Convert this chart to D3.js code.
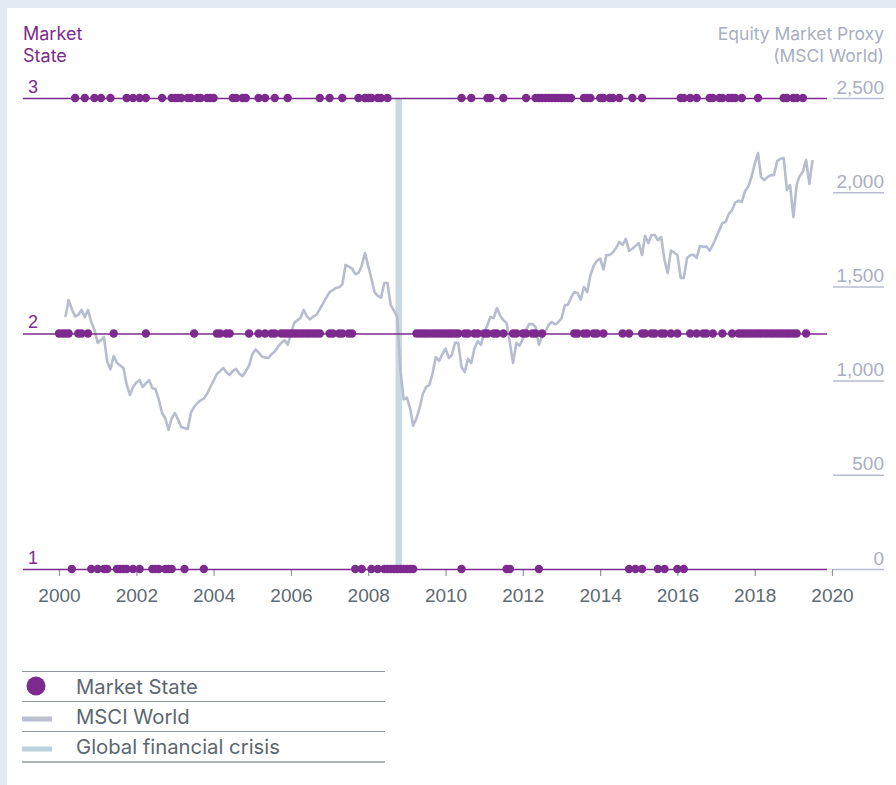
<!DOCTYPE html>
<html>
<head>
<meta charset="utf-8">
<script src="https://cdn.jsdelivr.net/npm/d3@7"></script>
<style>
  body { margin: 0; background: #e3ebf2; }
  svg { display: block; font-family: Inter, "Noto Sans", sans-serif; }
</style>
</head>
<body>
<svg id="chart"></svg>
<script>
// market state observations, one dot per month
const state3Months = [
  "2000-06","2000-09","2000-12","2001-02","2001-05","2001-10","2001-12",
  "2002-02","2002-04","2002-09","2002-12",
  "2003-01","2003-02","2003-03","2003-05","2003-06","2003-08","2003-09","2003-11","2003-12",
  "2004-01","2004-07","2004-08","2004-10","2004-11",
  "2005-03","2005-05","2005-08","2005-12","2006-10",
  "2007-01","2007-05","2007-10","2007-12",
  "2008-01","2008-02","2008-04","2008-05","2008-07",
  "2010-06","2010-09","2011-02","2011-03","2011-07",
  "2012-02","2012-05","2012-06","2012-07","2012-08","2012-09","2012-10","2012-11","2012-12",
  "2013-01","2013-02","2013-03","2013-04","2013-08","2013-09","2013-10",
  "2014-01","2014-02","2014-04","2014-05","2014-07","2014-11","2015-02",
  "2016-02","2016-03","2016-05","2016-07","2016-11","2016-12",
  "2017-02","2017-03","2017-05","2017-06","2017-07","2017-09",
  "2018-02","2018-10","2018-11","2019-01","2019-02","2019-04"
];
const state2Months = [
  "2000-01","2000-02","2000-03","2000-04","2000-07","2000-08","2000-10",
  "2001-06","2002-04","2003-07",
  "2004-02","2004-03","2004-05","2004-06","2004-12",
  "2005-03","2005-05","2005-07","2005-08","2005-10","2005-11","2005-12",
  "2006-01","2006-02","2006-03","2006-04","2006-05","2006-06","2006-07","2006-08","2006-09","2006-10",
  "2007-01","2007-02","2007-04","2007-05","2007-07","2007-08",
  "2009-04","2009-05","2009-06","2009-07","2009-08","2009-09","2009-10","2009-11","2009-12",
  "2010-01","2010-02","2010-03","2010-04","2010-05","2010-07","2010-08","2010-10","2010-11",
  "2011-01","2011-02","2011-04","2011-05","2011-07","2011-10","2011-11",
  "2012-01","2012-02","2012-04","2012-05","2012-07",
  "2013-05","2013-06","2013-08","2013-09","2013-11","2013-12",
  "2014-02","2014-08","2014-10",
  "2015-02","2015-03","2015-05","2015-06","2015-08","2015-09","2015-11",
  "2016-01","2016-05","2016-07","2016-09","2016-10","2016-12",
  "2017-03","2017-06","2017-08","2017-09","2017-10","2017-11","2017-12",
  "2018-01","2018-02","2018-03","2018-04","2018-05","2018-06","2018-07","2018-08","2018-09","2018-10","2018-11","2018-12",
  "2019-01","2019-02","2019-05"
];
const state1Months = [
  "2000-05","2000-11","2001-01","2001-03","2001-04","2001-07","2001-08","2001-09","2001-10","2001-12",
  "2002-02","2002-06","2002-07","2002-08","2002-10","2002-11","2002-12",
  "2003-04","2003-10",
  "2007-09","2007-11","2008-02","2008-04",
  "2008-06","2008-07","2008-08","2008-09","2008-10","2008-11","2008-12",
  "2009-01","2009-02","2009-03",
  "2010-06","2011-08","2011-09","2012-06",
  "2014-10","2014-12","2015-02","2015-07","2015-09","2016-01","2016-03"
];

// MSCI World, monthly from March 2000
const msciStart = "2000-03";
const msciValues = [
  1337, 1428, 1380, 1340, 1350, 1375, 1337, 1375, 1310, 1270, 1200, 1215,
  1231, 1100, 1060, 1130, 1095, 1080, 1067, 980, 924, 966, 990, 1003,
  966, 985, 1003, 960, 955, 900, 828, 800, 738, 800, 828, 790,
  754, 748, 743, 830, 860, 881, 895, 905, 930, 966, 1000, 1035,
  1050, 1067, 1045, 1030, 1050, 1062, 1035, 1024, 1050, 1080, 1140, 1165,
  1150, 1128, 1122, 1120, 1140, 1155, 1180, 1200, 1215, 1190, 1250, 1306,
  1320, 1332, 1375, 1340, 1325, 1340, 1350, 1380, 1410, 1440, 1470, 1480,
  1492, 1495, 1510, 1614, 1605, 1595, 1565, 1571, 1610, 1677, 1610, 1540,
  1470, 1450, 1440, 1518, 1518, 1400, 1370, 1340, 1050, 900, 910, 850,
  760, 800, 855, 930, 966, 977, 1040, 1125, 1105, 1140, 1170,
  1120, 1136, 1200, 1200, 1072, 1045, 1115, 1093, 1170, 1210, 1189, 1253,
  1295, 1338, 1332, 1385, 1345, 1320, 1306, 1200, 1093, 1200, 1185, 1220,
  1270, 1300, 1300, 1285, 1190, 1231, 1260, 1295, 1311, 1298, 1310, 1330,
  1401, 1401, 1440, 1470, 1465, 1430, 1497, 1470, 1560, 1610, 1635, 1648,
  1590, 1667, 1667, 1680, 1704, 1736, 1720, 1752, 1688, 1700, 1715, 1730,
  1667, 1768, 1730, 1773, 1773, 1745, 1762, 1640, 1571, 1690, 1680, 1667,
  1545, 1545, 1650, 1665, 1668, 1651, 1714, 1710, 1712, 1690, 1720, 1760,
  1800, 1837, 1842, 1885, 1905, 1945, 1955, 1948, 2005, 2030, 2080, 2150,
  2208, 2080, 2065, 2080, 2091, 2090, 2165, 2178, 2182, 2012, 2038, 1868,
  2040, 2085, 2110, 2171, 2044, 2171
];

const crisisPeriod = ["2008-09-15", "2008-11-15"];
const yearTicks = [2000, 2002, 2004, 2006, 2008, 2010, 2012, 2014, 2016, 2018, 2020];
const stateTicks = [1, 2, 3];
const msciTicks = [0, 500, 1000, 1500, 2000, 2500];
const legendLabels = ["Market State", "MSCI World", "Global financial crisis"];

const purple = "#7d2a8e";
const lineGrey = "#b7bccf";

const W = 896, H = 785;
const svg = d3.select("#chart").attr("width", W).attr("height", H);

// panel
svg.append("rect").attr("width", W).attr("height", H).attr("fill", "#e3ebf2");
svg.append("rect").attr("x", 7).attr("y", 8).attr("width", W - 7).attr("height", H - 8).attr("fill", "#fff");

const parseMonth = d3.timeParse("%Y-%m");
const parseDay = d3.timeParse("%Y-%m-%d");

var x = d3.scaleTime()
  .domain([new Date(2000, 0, 1), new Date(2020, 0, 1)])
  .range([59, 832]);
var yState = d3.scaleLinear().domain([1, 3]).range([569, 98]);
var yMsci = d3.scaleLinear().domain([0, 2500]).range([569, 98]);

// crisis band
svg.append("rect")
  .attr("x", x(parseDay(crisisPeriod[0])))
  .attr("width", x(parseDay(crisisPeriod[1])) - x(parseDay(crisisPeriod[0])))
  .attr("y", yState(3))
  .attr("height", yState(1) - yState(3))
  .attr("fill", "#c8d9e4");

// x axis
var xAxis = d3.axisBottom(x)
  .tickValues(yearTicks.map(function (y) { return new Date(y, 0, 1); }))
  .tickFormat(d3.timeFormat("%Y"))
  .tickSize(7)
  .tickPadding(13);
var gx = svg.append("g").attr("transform", "translate(0," + yState(1) + ")").call(xAxis);
gx.select(".domain").remove();
gx.selectAll("line").attr("stroke", "#8e979d").attr("stroke-width", 1.2);
gx.selectAll("text").attr("fill", "#5f6a72").style("font-size", "19px");

// MSCI line
var start = parseMonth(msciStart);
var msci = msciValues.map(function (v, i) {
  return { date: d3.timeMonth.offset(start, i), value: v };
});
var line = d3.line()
  .x(function (d) { return x(d.date); })
  .y(function (d) { return yMsci(d.value); });
svg.append("path")
  .datum(msci)
  .attr("d", line)
  .attr("fill", "none")
  .attr("stroke", lineGrey)
  .attr("stroke-width", 2.6)
  .attr("stroke-linejoin", "round");

// state lines and labels
var stateAxis = d3.axisRight(yState).tickValues(stateTicks).tickFormat(d3.format("d")).tickSize(804).tickPadding(0);
var gs = svg.append("g").attr("transform", "translate(23,0)").call(stateAxis);
gs.select(".domain").remove();
gs.selectAll("line").attr("stroke", purple).attr("stroke-width", 1.3);
gs.selectAll("text")
  .attr("x", 5).attr("dy", -6)
  .attr("text-anchor", "start")
  .attr("fill", purple)
  .style("font-size", "18px");

// dots
var dots = [];
[[1, state1Months], [2, state2Months], [3, state3Months]].forEach(function (s) {
  s[1].forEach(function (m) { dots.push({ state: s[0], date: parseMonth(m) }); });
});
svg.append("g").selectAll("circle")
  .data(dots)
  .enter().append("circle")
  .attr("cx", function (d) { return x(d.date); })
  .attr("cy", function (d) { return yState(d.state); })
  .attr("r", 4.2)
  .attr("fill", purple);

// right axis
var msciAxis = d3.axisLeft(yMsci).tickValues(msciTicks).tickFormat(d3.format(",")).tickSize(51);
var gr = svg.append("g").attr("transform", "translate(884,0)").call(msciAxis);
gr.select(".domain").remove();
gr.selectAll("line").attr("stroke", lineGrey).attr("stroke-width", 1.5);
gr.selectAll("text")
  .attr("x", 0).attr("dy", -5)
  .attr("text-anchor", "end")
  .attr("fill", "#a9aec1")
  .style("font-size", "19px");

// titles
var lt = svg.append("text").attr("x", 23).attr("y", 40).attr("fill", purple).style("font-size", "18px");
lt.append("tspan").attr("x", 23).text("Market");
lt.append("tspan").attr("x", 23).attr("dy", 22).text("State");
var rt = svg.append("text").attr("x", 884).attr("y", 40).attr("text-anchor", "end").attr("fill", "#a9aec1").style("font-size", "17.5px");
rt.append("tspan").attr("x", 884).text("Equity Market Proxy");
rt.append("tspan").attr("x", 884).attr("dy", 22).text("(MSCI World)");

// legend
var legY = [671.5, 701.5, 731.5, 762];
var lg = svg.append("g");
legY.forEach(function (ly, i) {
  lg.append("line").attr("x1", 22).attr("x2", 385).attr("y1", ly).attr("y2", ly)
    .attr("stroke", i === 3 ? "#5f6b73" : "#8e979d").attr("stroke-width", 1.2);
});
lg.append("circle").attr("cx", 36).attr("cy", 686).attr("r", 9.5).attr("fill", purple);
lg.append("rect").attr("x", 22).attr("y", 716.5).attr("width", 30).attr("height", 5).attr("fill", "#bcc0d0");
lg.append("rect").attr("x", 22).attr("y", 746.5).attr("width", 30).attr("height", 5).attr("fill", "#bcd2de");
legendLabels.forEach(function (t, i) {
  lg.append("text").attr("x", 76).attr("y", 694 + i * 30)
    .attr("fill", "#5b6770").style("font-size", "20.3px").text(t);
});
</script>
</body>
</html>
